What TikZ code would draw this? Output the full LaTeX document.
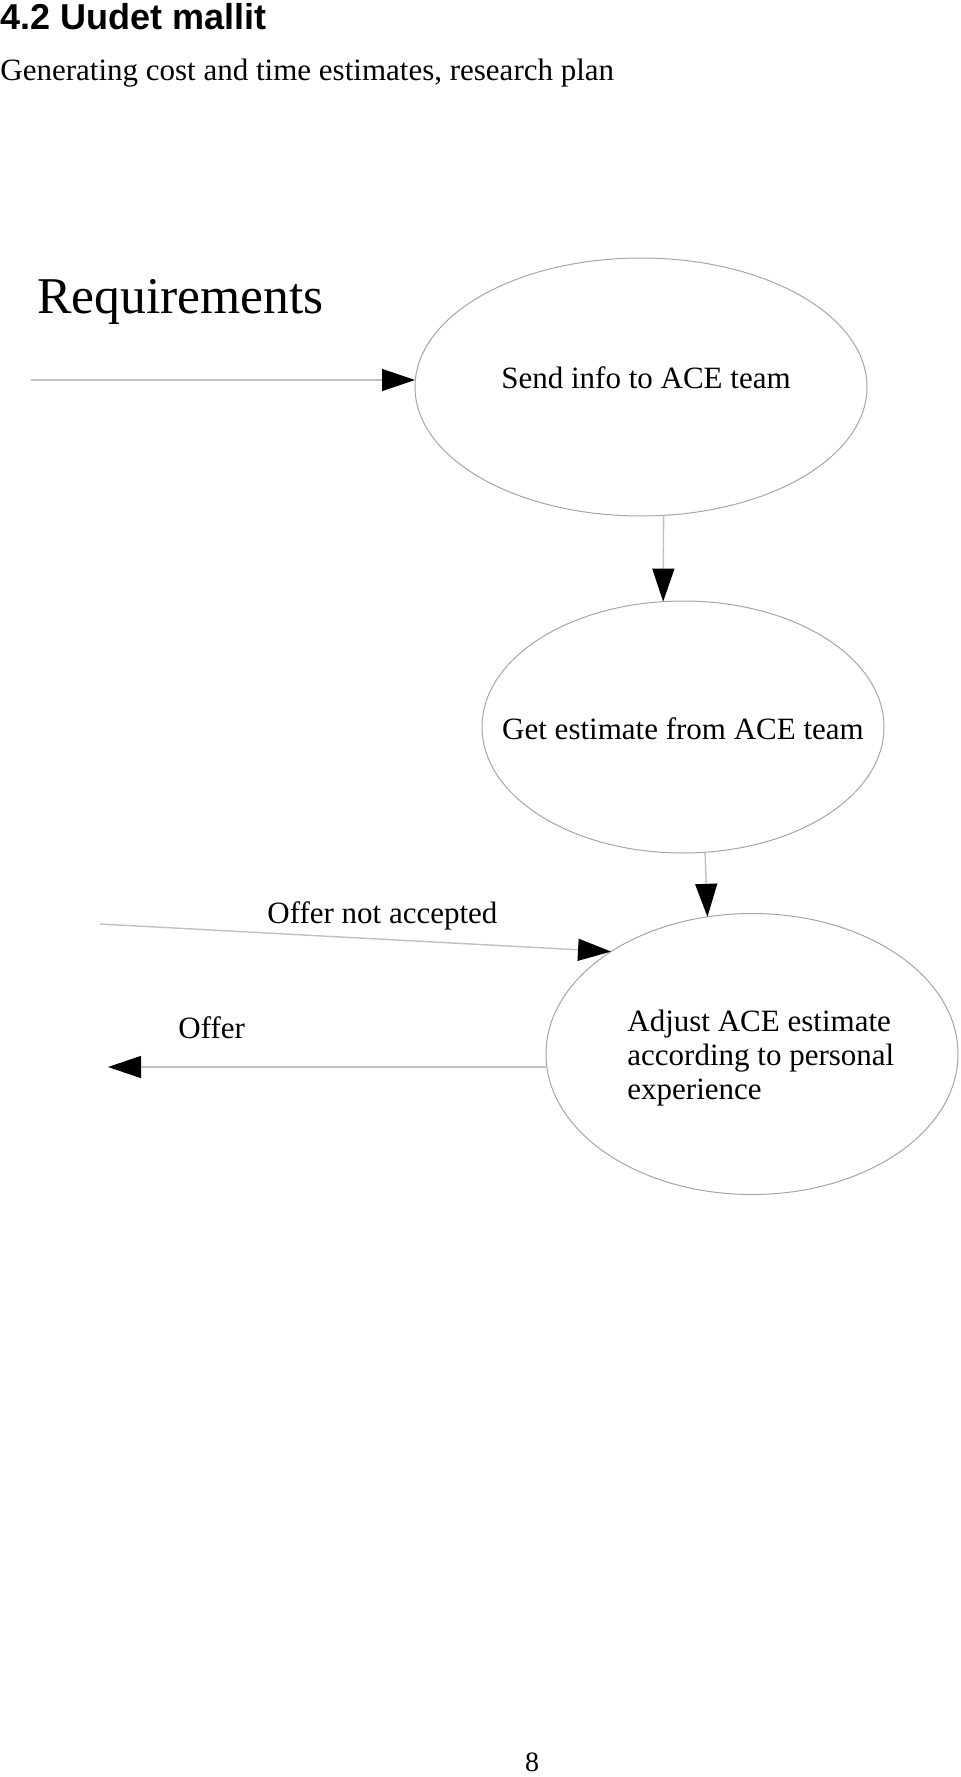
\documentclass[tikz,border=0pt]{standalone}
\usepackage{fontspec}
\setmainfont{Liberation Serif}
\newfontfamily\headfont{Liberation Sans}
\usepackage{tikz}
\usetikzlibrary{calc,arrows.meta,positioning,shapes.geometric}
\definecolor{aceRing}{RGB}{165,165,165}
\definecolor{aceWire}{RGB}{192,192,192}
\definecolor{aceInk}{RGB}{0,0,0}

\tikzset{
    task/.style={draw=aceRing, line width=0.5pt, ellipse, inner sep=0pt, outer sep=0pt},
    flow/.style={draw=aceWire, line width=0.7pt,
        -{Triangle[length=16.5pt,width=11pt,color=aceInk]}},
    txt/.style={inner sep=0pt, text=aceInk, font=\fontsize{15.5}{17}\selectfont},
}

\begin{document}
\begin{tikzpicture}[x=0.5pt,y=-0.5pt]
\useasboundingbox (0,0) rectangle (960,1777);

% =========================
% Heading
% =========================
\node[inner sep=0pt, anchor=base west, font=\headfont\bfseries\fontsize{18}{21}\selectfont]
    (head) at (0,30) {4.2 Uudet mallit};
\node[txt, anchor=base west] (sub) at (0,81) {Generating cost and time estimates, research plan};

% =========================
% Process steps
% =========================
\node[task, minimum width=226pt, minimum height=129pt] (send) at (641,387) {};
\node[task, minimum width=201pt, minimum height=126pt] (est) at (683,727) {};
\node[task, minimum width=206pt, minimum height=140.5pt] (adj) at (752,1054) {};

\node[txt, anchor=base] (sendtxt) at ($(send)+(5,1)$) {Send info to ACE team};
\node[txt, anchor=base] (esttxt) at ($(est)+(0,12)$) {Get estimate from ACE team};
\node[txt, anchor=west, align=left] (adjtxt) at ($(adj)+(-125,4)$)
    {Adjust ACE estimate\\according to personal\\experience};

% =========================
% Inputs and outputs
% =========================
\node[txt, anchor=base west, font=\fontsize{25.8}{30}\selectfont] (req) at (37,313) {Requirements};
\node[txt, anchor=base west] (rejlbl) at (267,923) {Offer not accepted};
\node[txt, anchor=base west] (offlbl) at (178,1038) {Offer};

\coordinate (reqin) at (31,380);
\coordinate (rejin) at (100,924);
\coordinate (offout) at (108,1067);

\draw[flow] (reqin) -- (reqin -| send.west);
\draw[flow] (send.-80) -- (est.99);
\draw[flow] (est.-80) -- (adj.108);
\draw[flow] (rejin) -- (adj.144);
\draw[flow] (offout -| adj.west) -- (offout);

% page number
\node[txt, anchor=base, font=\fontsize{14}{16}\selectfont] (pagenum) at (532,1771) {8};

\end{tikzpicture}
\end{document}
